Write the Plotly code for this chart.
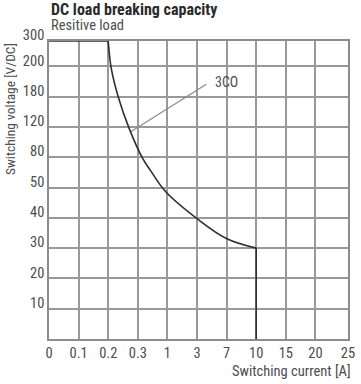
import numpy as np
import plotly.graph_objects as go

# Axis tick categories (non-linear, drawn equally spaced)
x_ticks = [0, 0.1, 0.2, 0.3, 1, 3, 7, 10, 15, 20, 25]
x_labels = ["0", "0.1", "0.2", "0.3", "1", "3", "7", "10", "15", "20", "25"]
y_ticks = [0, 10, 20, 30, 40, 50, 80, 120, 180, 200, 300]
y_labels = ["", "10", "20", "30", "40", "50", "80", "120", "180", "200", "300"]

# 3CO breaking capacity curve (current A, voltage V/DC)
curve_A = [0.2, 0.21, 0.234, 0.2706, 0.4176, 0.602, 0.956, 3.13, 6.96, 10]
curve_V = [300, 199, 179.3, 118.2, 78.6, 66.8, 48.7, 39.5, 33.2, 30]
top_A = [0, 0.2]
top_V = [300, 300]
drop_A = [10, 10]
drop_V = [30, 0]

# Label with leader line
label_text = "3CO"
label_A, label_V = 5.16, 190
leader_A = [4.26, 0.276]
leader_V = [188.3, 113.7]

# tick positions on the drawn (equally spaced) scale
x_pos = [0, 1, 2, 3, 4, 5, 6, 7, 8, 9, 10.1]
y_pos = [0, 1, 2, 3, 4, 5, 6, 7, 8, 9, 9.84]


def sx(v):
    return np.interp(v, x_ticks, x_pos)


def sy(v):
    return np.interp(v, y_ticks, y_pos)


FONT = "Roboto Condensed, DejaVu Sans Condensed, sans-serif"
TXT = "#4d4d4d"
GRID = "#999999"
CURVE = "#2f2f2f"

L, R, T, B = 49, 6, 41, 45
W, H = 361, 384
PW, PH = W - L - R, H - T - B

fig = go.Figure()
fig.add_trace(go.Scatter(x=sx(leader_A), y=sy(leader_V), mode="lines",
                         line=dict(color="#8a8a8a", width=1.2),
                         hoverinfo="skip", showlegend=False))
fig.add_trace(go.Scatter(x=sx(curve_A), y=sy(curve_V), mode="lines",
                         line=dict(color=CURVE, width=1.6, shape="spline", smoothing=1.0),
                         showlegend=False))
fig.add_trace(go.Scatter(x=sx(top_A), y=sy(top_V), mode="lines",
                         line=dict(color=CURVE, width=1.6), showlegend=False))
fig.add_trace(go.Scatter(x=sx(drop_A), y=sy(drop_V), mode="lines",
                         line=dict(color=CURVE, width=1.6), showlegend=False))


def px_x(p):
    return (p - L) / PW


def px_y(p):
    return (H - B - p) / PH


annotations = [
    dict(x=sx(label_A), y=sy(label_V), text=label_text, showarrow=False,
         xanchor="left", yanchor="middle",
         font=dict(family=FONT, size=14, color=TXT)),
    dict(x=px_x(49), y=px_y(9.5), xref="paper", yref="paper",
         text="<b>DC load breaking capacity</b>", showarrow=False,
         xanchor="left", yanchor="middle",
         font=dict(family=FONT, size=16, color="#2a2a2a")),
    dict(x=px_x(49), y=px_y(25), xref="paper", yref="paper",
         text="Resitive load", showarrow=False,
         xanchor="left", yanchor="middle",
         font=dict(family=FONT, size=14.5, color=TXT)),
    dict(x=px_x(9), y=px_y(41), xref="paper", yref="paper",
         text="Switching voltage [V/DC]", showarrow=False, textangle=-90,
         xanchor="center", yanchor="top",
         font=dict(family=FONT, size=13.5, color=TXT)),
    dict(x=px_x(360), y=px_y(372), xref="paper", yref="paper",
         text="Switching current [A]", showarrow=False,
         xanchor="right", yanchor="middle",
         font=dict(family=FONT, size=14.5, color=TXT)),
]

fig.update_layout(
    width=W, height=H,
    margin=dict(l=L, r=R, t=T, b=B, pad=0),
    paper_bgcolor="white", plot_bgcolor="white",
    font=dict(family=FONT, size=14, color=TXT),
    annotations=annotations,
)
fig.update_xaxes(range=[0, 10.1], tickvals=x_pos, ticktext=x_labels,
                 showgrid=True, gridcolor=GRID, gridwidth=1.5,
                 showline=True, linecolor="#8c8c8c", linewidth=1.6, mirror=True,
                 zeroline=False, ticks="", tickfont=dict(family=FONT, size=14.5, color=TXT),
                 fixedrange=True)
fig.update_yaxes(range=[0, 9.84], tickvals=y_pos, ticktext=y_labels,
                 showgrid=True, gridcolor=GRID, gridwidth=1.5,
                 showline=True, linecolor="#8c8c8c", linewidth=1.6, mirror=True,
                 zeroline=False, ticks="", tickfont=dict(family=FONT, size=14.5, color=TXT),
                 ticklabelshift=-6,
                 fixedrange=True)

fig.write_html("out.html", config={"displayModeBar": False})
